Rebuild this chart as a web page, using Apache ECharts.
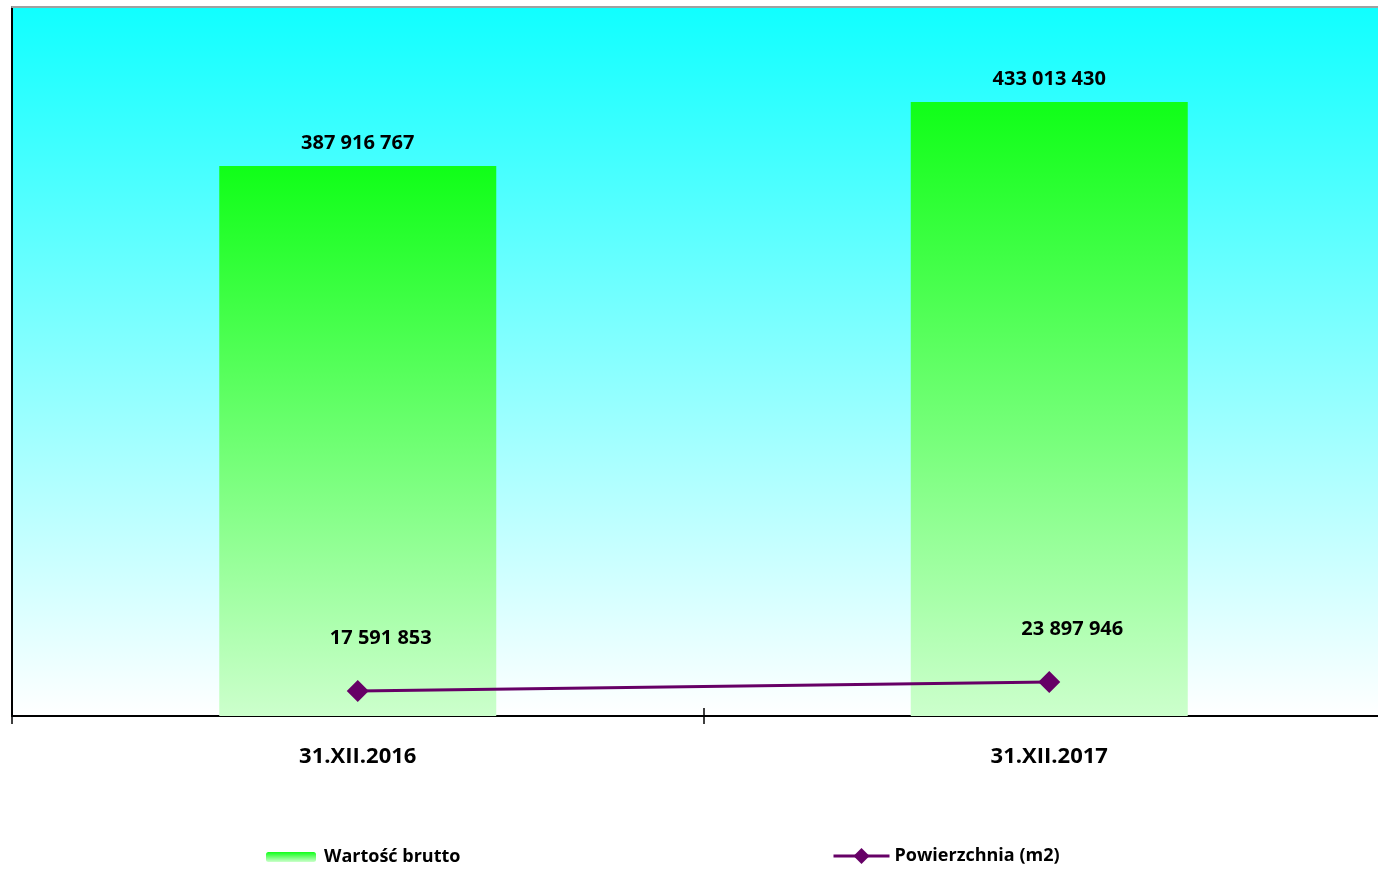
<!DOCTYPE html>
<html><head><meta charset="utf-8">
<script src="https://cdn.jsdelivr.net/npm/echarts@6/dist/echarts.min.js"></script>
<style>html,body{margin:0;padding:0;overflow:hidden;background:#fff;width:1378px;height:869px}#c{width:1395px;height:869px}</style>
</head><body><div id="c"></div>
<script>
var categories = ['31.XII.2016', '31.XII.2017'];
var wartoscBrutto = [387916767, 433013430];
var powierzchnia = [17591853, 23897946];
var seriesNames = ['Wartość brutto', 'Powierzchnia (m2)'];

function fmt(v){ return String(v).replace(/\B(?=(\d{3})+(?!\d))/g, ' '); }
var FONT = '"Open Sans", "Noto Sans", sans-serif';
var chart = echarts.init(document.getElementById('c'), null, {renderer:'canvas'});
chart.setOption({
  animation:false,
  grid:{left:12, top:7, right:0, bottom:153, show:true, borderWidth:0,
    backgroundColor:new echarts.graphic.LinearGradient(0,0,0,1,[{offset:0,color:'#10ffff'},{offset:1,color:'#ffffff'}])},
  legend:[
    {data:[seriesNames[0]], left:266, top:848, padding:0, itemWidth:50, itemHeight:10,
     formatter:function(n){return '\u2009' + n;},
     textStyle:{fontFamily:FONT, fontWeight:'bold', fontSize:18, color:'#000'}},
    {data:[seriesNames[1]], left:832, top:847, padding:0, itemWidth:56, itemHeight:20,
     lineStyle:{width:3},
     textStyle:{fontFamily:FONT, fontWeight:'bold', fontSize:18, color:'#000'}}
  ],
  xAxis:[
    {type:'category', data:categories, position:'bottom',
     axisLine:{lineStyle:{color:'#000', width:2}},
     axisTick:{show:true, length:8, lineStyle:{color:'#000', width:1.5}},
     axisLabel:{margin:30, fontFamily:FONT, fontWeight:'bold', fontSize:22, color:'#000'}},
    {type:'category', data:categories, position:'bottom', show:true,
     axisLine:{show:false},
     axisTick:{show:true, inside:true, length:8, lineStyle:{color:'#000', width:1.5}},
     axisLabel:{show:false}},
    {type:'category', data:categories, position:'top',
     axisLine:{lineStyle:{color:'#a0a0a0', width:2}},
     axisTick:{show:false}, axisLabel:{show:false}}
  ],
  yAxis:[
    {type:'value', min:0, max:500000000, axisLine:{show:true, lineStyle:{color:'#000', width:2}},
     axisTick:{show:false}, axisLabel:{show:false}, splitLine:{show:false}},
    {type:'value', min:0, max:500000000, show:false, splitLine:{show:false}}
  ],
  series:[
    {name:seriesNames[0], type:'bar', data:wartoscBrutto, barWidth:277,
     itemStyle:{color:new echarts.graphic.LinearGradient(0,0,0,1,[{offset:0,color:'#10ff18'},{offset:1,color:'#ccffcc'}])},
     label:{show:true, position:'top', distance:13, formatter:function(p){return fmt(p.value);},
       fontFamily:FONT, fontWeight:'bold', fontSize:20, color:'#000'}},
    {name:seriesNames[1], type:'line', yAxisIndex:1, data:powierzchnia,
     symbol:'diamond', symbolSize:22, lineStyle:{color:'#660066', width:3},
     itemStyle:{color:'#660066'},
     label:{show:true, position:'top', offset:[23,-27], formatter:function(p){return fmt(p.value);},
       fontFamily:FONT, fontWeight:'bold', fontSize:20, color:'#000'}}
  ]
});
</script></body></html>
